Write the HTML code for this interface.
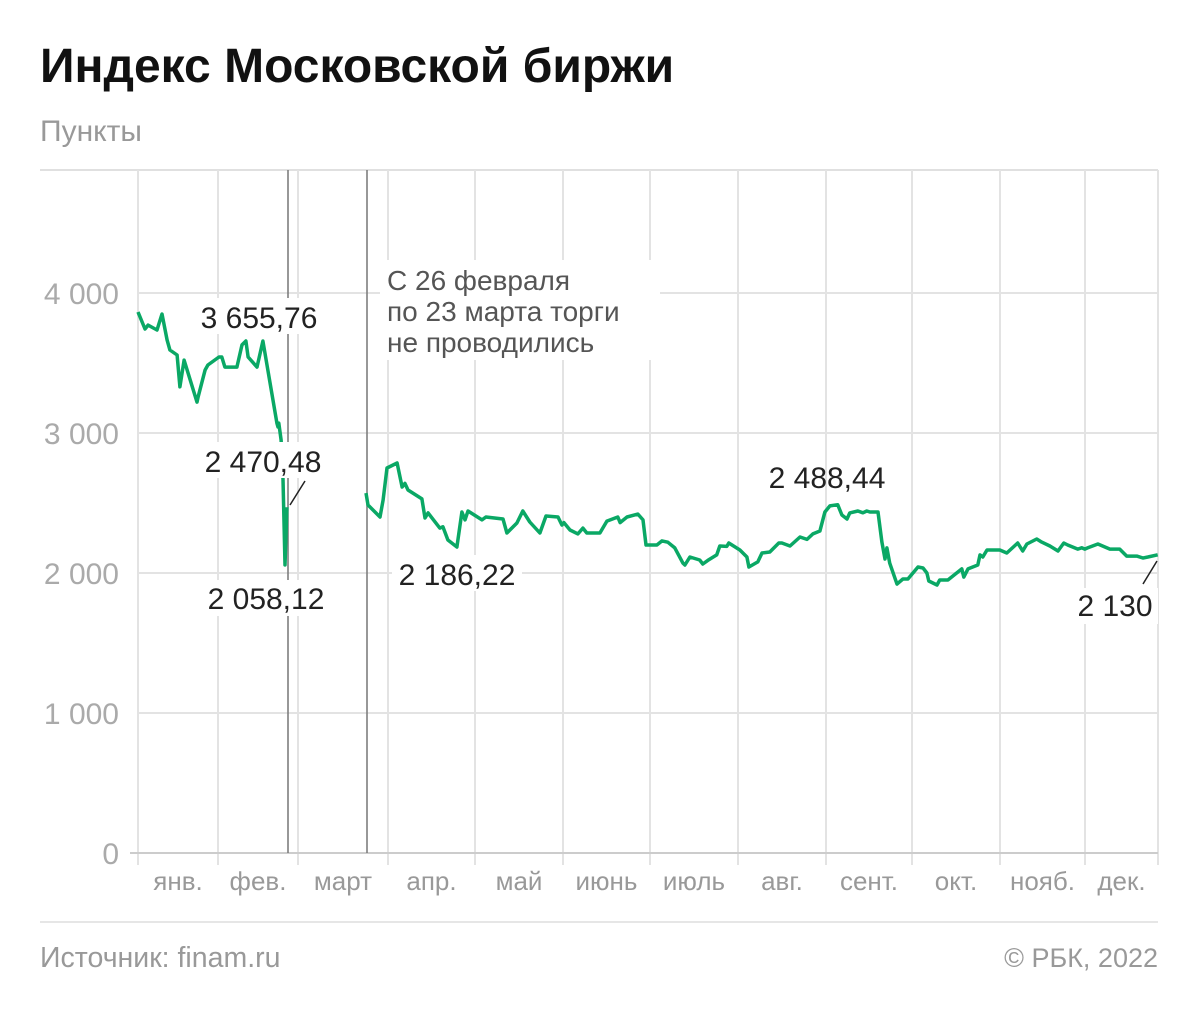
<!DOCTYPE html>
<html><head><meta charset="utf-8"><style>
body{margin:0;background:#fff;width:1200px;height:1015px;overflow:hidden;font-family:"Liberation Sans","DejaVu Sans",sans-serif}
</style></head><body>
<svg width="1200" height="1015" viewBox="0 0 1200 1015">
<text x="40" y="82" font-size="48" font-weight="bold" fill="#111">Индекс Московской биржи</text>
<text x="40" y="141" font-size="30" fill="#999">Пункты</text>
<g id="grid"></g>
<g id="yticks"></g>
<g id="xticks"></g>
<line x1="288" y1="170" x2="288" y2="853" stroke="#777" stroke-width="1.5"/>
<line x1="367" y1="170" x2="367" y2="853" stroke="#777" stroke-width="1.5"/>
<g id="series"></g>
<g font-size="28" fill="#555">
<rect x="380" y="260" width="280" height="100" fill="#fff"/>
<text x="387" y="290">С 26 февраля</text>
<text x="387" y="321">по 23 марта торги</text>
<text x="387" y="352">не проводились</text>
</g>
<g font-size="30" fill="#222">
<rect x="194" y="298" width="130" height="36" fill="#fff"/><text x="259" y="328" text-anchor="middle">3 655,76</text>
<rect x="196" y="442" width="134" height="36" fill="#fff"/><text x="263" y="472" text-anchor="middle">2 470,48</text>
<rect x="200" y="580" width="130" height="36" fill="#fff"/><text x="266" y="609" text-anchor="middle">2 058,12</text>
<rect x="392" y="555" width="130" height="36" fill="#fff"/><text x="457" y="585" text-anchor="middle">2 186,22</text>
<text x="827" y="488" text-anchor="middle">2 488,44</text>
<rect x="1070" y="588" width="88" height="36" fill="#fff"/><text x="1115" y="616" text-anchor="middle">2 130</text>
<line x1="305" y1="481" x2="290" y2="505" stroke="#222" stroke-width="1.5"/>
<line x1="1157" y1="561" x2="1143" y2="584" stroke="#222" stroke-width="1.5"/>
</g>
<line x1="40" y1="922" x2="1158" y2="922" stroke="#ddd" stroke-width="1.5"/>
<text x="40" y="967" font-size="28.5" fill="#999">Источник: finam.ru</text>
<text x="1158" y="967" font-size="27" fill="#999" text-anchor="end">© РБК, 2022</text>
</svg>
<script>
const yTicks=[0,1000,2000,3000,4000];
const yTickLabels=["0","1 000","2 000","3 000","4 000"];
const months=["янв.","фев.","март","апр.","май","июнь","июль","авг.","сент.","окт.","нояб.","дек."];
const days=[0,2.5,3.6,6.8,8.6,10.4,11.4,14,15,16.5,21.1,21.5,24,25,29,30,31.1,35.4,37.2,38.6,39.4,42.6,44.7,49.7,50.1,50.4,51.2,51.9,52.6,53.3,null,
81.6,82.3,86.6,87.7,89.1,92.7,94.5,95.5,96.6,101.6,102.7,103.8,108,109.1,110.9,114.1,115.9,117,118.1,123.1,124.5,130.6,132,135.6,137.7,140.2,143.8,146,150.3,151.7,152.4,154.6,157.4,159.2,160.6,165.3,167.8,171.7,172.5,175,178.9,180.7,181.8,185.7,187.5,189.6,192.1,195,195.7,197.5,201,202.1,203.9,207.1,208.2,210.7,211.4,215.4,217.9,218.6,221.8,223.3,226.1,229.3,230.4,233.3,236.9,239.4,241.5,244,245.8,247.6,250.4,251.9,253.7,254.7,257.6,259.4,260.8,261.9,264.8,266.2,267.3,268,269,271.6,273.7,275.5,279.1,280.9,282.3,283,285.9,286.9,289.8,294.8,295.5,297,300.5,301.3,302.3,303.8,308.4,310.9,314.8,316.6,318.1,321.6,323.4,326.3,329.2,331.3,332.7,336.3,337.7,338.8,339.9,343.5,347.8,351.3,353.8,357.4,359.6,361.4,364.9];
const values=[3864,3743,3771,3736,3850,3664,3593,3557,3329,3521,3221,3257,3450,3486,3543,3543,3471,3471,3629,3657,3543,3471,3657,3071,3043,3071,2950,2671,2058,2470,null,
2571,2486,2400,2521,2750,2786,2614,2640,2593,2529,2393,2429,2321,2330,2236,2186,2436,2379,2443,2379,2400,2386,2286,2357,2443,2364,2286,2407,2400,2343,2360,2307,2279,2321,2286,2286,2371,2400,2360,2400,2421,2379,2200,2200,2229,2220,2179,2071,2057,2114,2093,2064,2090,2129,2193,2190,2214,2164,2114,2043,2079,2143,2150,2214,2214,2193,2257,2240,2279,2300,2436,2479,2488,2414,2386,2429,2443,2430,2443,2436,2436,2221,2100,2179,2071,1921,1957,1957,2043,2036,2000,1943,1914,1950,1950,2029,1971,2029,2057,2129,2114,2164,2164,2143,2214,2157,2207,2243,2221,2193,2157,2214,2200,2171,2180,2171,2180,2207,2171,2171,2121,2121,2107,2114,2130];
const NS="http://www.w3.org/2000/svg";
const X0=138,X1=1158,Y0=853;
const xs=d=>X0+(d/365)*(X1-X0);
const ys=v=>Y0-v*0.14;
const monthX=[138,218,298,388,475,563,650,738,826,912,1000,1085,1158];
function mk(t,a,p){const e=document.createElementNS(NS,t);for(const k in a)e.setAttribute(k,a[k]);p.appendChild(e);return e;}
const gridG=document.getElementById('grid');
const topRule=mk('line',{x1:40,x2:1158,y1:170,y2:170,stroke:'#e0e0e0','stroke-width':2},gridG);


monthX.forEach((mx)=>{const l=mk('line',{x1:mx,x2:mx,y1:170,y2:865,stroke:'#e3e3e3','stroke-width':2},gridG);

});
const ytG=document.getElementById('yticks');
yTicks.forEach((v,i)=>{const l=mk('line',{x1:i?138:130,x2:1158,y1:ys(v),y2:ys(v),stroke:i?'#e3e3e3':'#ccc','stroke-width':2},gridG);


const t=mk('text',{x:119,y:ys(v)+11,'font-size':30,fill:'#aaa','text-anchor':'end'},ytG);


t.textContent=yTickLabels[i];});
const xtG=document.getElementById('xticks');
months.forEach((m,i)=>{const t=mk('text',{x:(monthX[i]+monthX[i+1])/2,y:890,'font-size':26,fill:'#999','text-anchor':'middle'},xtG);


t.textContent=m;});
let pd='',pen=false;
days.forEach((dd,i)=>{const v=values[i];if(dd===null||v===null){pen=false;return;}pd+=(pen?'L':'M')+xs(dd).toFixed(1)+' '+ys(v).toFixed(1);pen=true;});
const p=mk('path',{d:pd,fill:'none',stroke:'#0aa865','stroke-width':3.5,'stroke-linejoin':'round'},document.getElementById('series'));


</script>
</body></html>
